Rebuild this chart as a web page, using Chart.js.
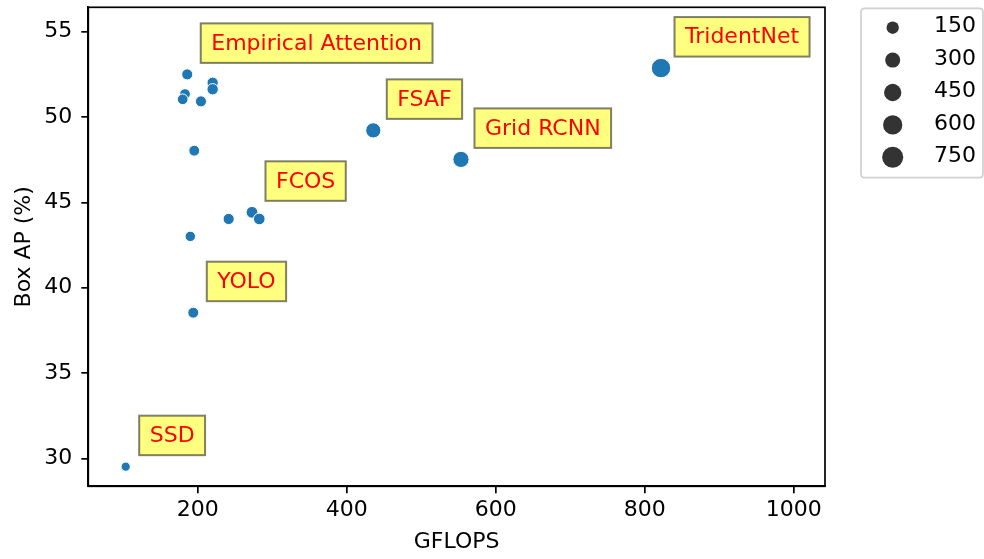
<!DOCTYPE html>
<html><head><meta charset="utf-8">
<script src="https://cdn.jsdelivr.net/npm/chart.js@4/dist/chart.umd.min.js"></script>
<style>html,body{margin:0;padding:0;background:#fff}#wrap{width:984px;height:559px;position:relative}</style>
</head><body><div id="wrap"><canvas id="c" width="984" height="559"></canvas></div>
<script>
// ---- data ----
const gflops     = [103.4, 194.1, 190.1, 241.6, 272.9, 282.7, 195.4, 186.0, 220.1, 220.1, 183.0, 179.9, 204.4, 435.7, 553.4, 821.9];
const boxAP      = [29.52, 38.54, 43.01, 44.03, 44.42, 44.03, 48.03, 52.50, 52.01, 51.63, 51.35, 51.04, 50.92, 49.22, 47.52, 52.87];
const sizeValues = [40, 135, 103, 150, 187, 180, 130, 140, 155, 160, 125, 120, 145, 440, 530, 850];
const pointLabels = ["SSD", "YOLO", "", "", "FCOS", "", "", "Empirical Attention", "", "", "", "", "", "FSAF", "Grid RCNN", "TridentNet"];
const legendSizes = [150, 300, 450, 600, 750];
const xTicks = [200, 400, 600, 800, 1000];
const yTicks = [30, 35, 40, 45, 50, 55];
const xTitle = "GFLOPS";
const yTitle = "Box AP (%)";

// ---- styling helpers ----
const FONT = "DejaVu Sans";
const FS = 22;
function radiusFor(v) { return Math.sqrt(14.2 + 0.0857 * v); }

const labelPlugin = {
  id: 'extras',
  afterDatasetsDraw(chart) {
    const ctx = chart.ctx, a = chart.chartArea;
    const xs = chart.scales.x, ys = chart.scales.y;
    ctx.save();
    // full frame
    ctx.strokeStyle = '#000'; ctx.lineWidth = 1.7;
    ctx.strokeRect(a.left, a.top, a.right - a.left, a.bottom - a.top);
    // annotation boxes
    ctx.font = FS + 'px "' + FONT + '"';
    pointLabels.forEach((name, i) => {
      if (!name) return;
      const px = xs.getPixelForValue(gflops[i]);
      const py = ys.getPixelForValue(boxAP[i]);
      const tw = ctx.measureText(name).width;
      const bl = px + 13.5, bb = py - 11.5, bw = tw + 21, bh = 39.5;
      ctx.fillStyle = 'rgba(255,255,0,0.5)';
      ctx.fillRect(bl, bb - bh, bw, bh);
      ctx.strokeStyle = 'rgba(0,0,0,0.5)'; ctx.lineWidth = 2;
      ctx.strokeRect(bl, bb - bh, bw, bh);
      ctx.fillStyle = '#ff0000';
      ctx.textBaseline = 'alphabetic'; ctx.textAlign = 'left';
      ctx.fillText(name, bl + 10.5, bb - 13.3);
    });
    // size legend
    const lx = 861, ly = 8.3, lw = 122, lh = 169.4, rr = 4;
    ctx.beginPath();
    ctx.moveTo(lx + rr, ly); ctx.lineTo(lx + lw - rr, ly); ctx.quadraticCurveTo(lx + lw, ly, lx + lw, ly + rr);
    ctx.lineTo(lx + lw, ly + lh - rr); ctx.quadraticCurveTo(lx + lw, ly + lh, lx + lw - rr, ly + lh);
    ctx.lineTo(lx + rr, ly + lh); ctx.quadraticCurveTo(lx, ly + lh, lx, ly + lh - rr);
    ctx.lineTo(lx, ly + rr); ctx.quadraticCurveTo(lx, ly, lx + rr, ly);
    ctx.closePath();
    ctx.fillStyle = 'rgba(255,255,255,0.8)'; ctx.fill();
    ctx.strokeStyle = '#d0d0d0'; ctx.lineWidth = 1.7; ctx.stroke();
    legendSizes.forEach((v, k) => {
      const cy = 27.7 + k * 32.4;
      ctx.beginPath();
      ctx.arc(892.7, cy, 1.19 * radiusFor(v), 0, Math.PI * 2);
      ctx.fillStyle = '#333333'; ctx.fill();
      ctx.fillStyle = '#000';
      ctx.textBaseline = 'middle'; ctx.textAlign = 'left';
      ctx.fillText(String(v), 934, cy - 1);
    });
    ctx.restore();
  }
};

new Chart(document.getElementById('c'), {
  type: 'scatter',
  data: {
    datasets: [{
      data: gflops.map((x, i) => ({ x: x, y: boxAP[i] })),
      pointRadius: sizeValues.map(v => radiusFor(v) + 0.4),
      pointHoverRadius: sizeValues.map(v => radiusFor(v) + 0.4),
      backgroundColor: '#1f77b4',
      borderColor: '#ffffff',
      borderWidth: 1
    }]
  },
  options: {
    responsive: false,
    animation: false,
    devicePixelRatio: 1,
    layout: { autoPadding: false, padding: { left: 0, top: 7.3, right: 159, bottom: 0 } },
    plugins: { legend: { display: false }, tooltip: { enabled: false } },
    scales: {
      x: {
        type: 'linear', min: 53.2, max: 1042,
        afterBuildTicks: s => { s.ticks = xTicks.map(v => ({ value: v })); },
        afterFit: s => { s.height = 559 - 486.3; s.paddingLeft = 0; s.paddingRight = 0; },
        ticks: { color: '#000', font: { family: FONT, size: FS }, padding: 4, maxRotation: 0, callback: v => String(v) },
        grid: { display: true, drawOnChartArea: false, drawTicks: true, tickLength: 7, color: '#000', lineWidth: 1.7 },
        border: { display: true, color: '#000', width: 1.7 },
        title: { display: true, text: xTitle, color: '#000', font: { family: FONT, size: FS }, padding: { top: 2, bottom: 4 } }
      },
      y: {
        type: 'linear', min: 28.37, max: 56.43,
        afterBuildTicks: s => { s.ticks = yTicks.map(v => ({ value: v })); },
        afterFit: s => { s.width = 88.3; s.paddingTop = 0; s.paddingBottom = 0; },
        ticks: { color: '#000', font: { family: FONT, size: FS }, padding: 9, callback: v => String(v) },
        grid: { display: true, drawOnChartArea: false, drawTicks: true, tickLength: 7, color: '#000', lineWidth: 1.7 },
        border: { display: true, color: '#000', width: 1.7 },
        title: { display: true, text: yTitle, color: '#000', font: { family: FONT, size: FS }, padding: { top: 11, bottom: 4 } }
      }
    }
  },
  plugins: [labelPlugin]
});
</script>
</body></html>
